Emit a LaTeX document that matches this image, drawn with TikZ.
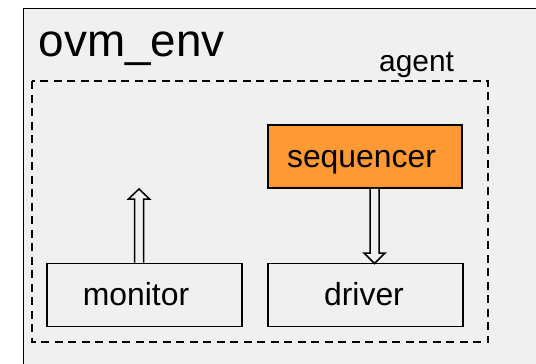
\documentclass[tikz,border=0pt]{standalone}
\usepackage{fontspec}
\setmainfont{Liberation Sans}
\usetikzlibrary{positioning}
\definecolor{envgray}{HTML}{F0F0F0}
\definecolor{seqorange}{HTML}{FF9933}
\tikzset{
  block/.style = {draw, line width = 1.5bp, minimum width = 195bp, minimum height = 63bp,
    inner sep = 0pt, text height = 21bp, text depth = 0pt, font = \fontsize{32}{38}\selectfont},
  fatarrow/.style = {draw, line width = 1.5bp, fill = envgray, line join = miter}
}
\begin{document}
\begin{tikzpicture}[x = 1bp, y = -1bp]
  \useasboundingbox (0, 0) rectangle (536, 363);
  \fill[white] (0, 0) rectangle (536, 363);
  \fill[envgray] (23.5, 8.5) rectangle (545, 370);
  \draw[line width = 1.5bp] (23.5, 370) -- (23.5, 8.5) -- (545, 8.5);
  \draw[line width = 1.5bp, dash pattern = on 8bp off 5.5bp] (32, 81) rectangle (488, 342);

  \node[anchor = base west, inner sep = 0pt, font = \fontsize{46}{52}\selectfont]
    (envlabel) at (38.5, 56) {ovm\_env};
  \node[anchor = base west, inner sep = 0pt, font = \fontsize{30}{36}\selectfont]
    (agentlabel) at (379, 71.5) {agent};

  \node[block] (monitor) at (144.5, 294.75) {\hspace*{-17bp}monitor};
  \node[block] (driver) at (365.3, 294.75) {\hspace*{-2.6bp}driver};
  \node[block, fill = seqorange, minimum width = 194bp] (sequencer) at (365, 156.5) {\hspace*{-7bp}sequencer};

  % up from the monitor
  \coordinate (montip) at (139, 189);
  \coordinate (monhead) at (139, 199);
  \draw[fatarrow] ([xshift = -4.5bp]montip |- monitor.north) -- ([xshift = -4.5bp]monhead)
    -- ([xshift = -10.5bp]monhead) -- (montip) -- ([xshift = 10.5bp]monhead)
    -- ([xshift = 4.5bp]monhead) -- ([xshift = 4.5bp]montip |- monitor.north);

  % down to the driver
  \coordinate (drvtip) at (374.5, 263.5);
  \coordinate (drvhead) at (374.5, 253);
  \draw[fatarrow] ([xshift = -4.5bp]drvtip |- sequencer.south) -- ([xshift = -4.5bp]drvhead)
    -- ([xshift = -10.5bp]drvhead) -- (drvtip) -- ([xshift = 10.5bp]drvhead)
    -- ([xshift = 4.5bp]drvhead) -- ([xshift = 4.5bp]drvtip |- sequencer.south);
\end{tikzpicture}
\end{document}
